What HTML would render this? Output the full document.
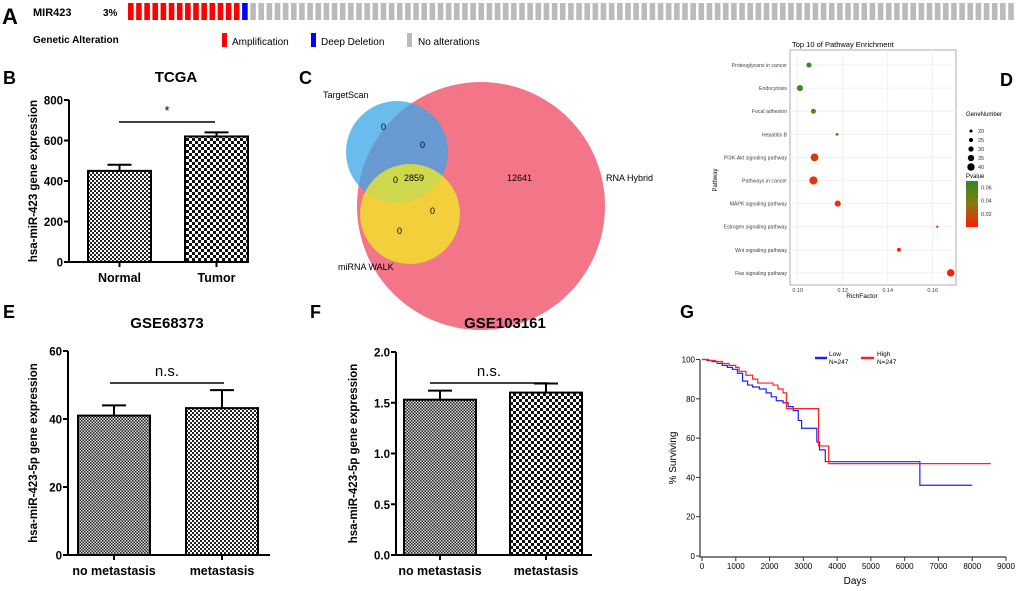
<!DOCTYPE html>
<html><head><meta charset="utf-8"><style>
body{margin:0;background:#fff}
svg{display:block;font-family:"Liberation Sans",Arial,sans-serif}
</style></head><body>
<svg id="fig" width="1020" height="591" viewBox="0 0 1020 591" xmlns="http://www.w3.org/2000/svg">
<defs>
<pattern id="chk1" width="4" height="4" patternUnits="userSpaceOnUse"><rect width="4" height="4" fill="#fff"/><rect width="2" height="2" fill="#222"/><rect x="2" y="2" width="2" height="2" fill="#222"/></pattern>
<pattern id="chk2" width="6" height="6" patternUnits="userSpaceOnUse"><rect width="6" height="6" fill="#fff"/><rect width="3" height="3" fill="#111"/><rect x="3" y="3" width="3" height="3" fill="#111"/></pattern>
<pattern id="chk3" width="3" height="3" patternUnits="userSpaceOnUse"><rect width="3" height="3" fill="#ddd"/><rect width="1.5" height="1.5" fill="#222"/><rect x="1.5" y="1.5" width="1.5" height="1.5" fill="#222"/></pattern>
<linearGradient id="pgrad" x1="0" y1="0" x2="0" y2="1"><stop offset="0" stop-color="#2e8b22"/><stop offset="0.5" stop-color="#8a7a10"/><stop offset="1" stop-color="#ff1a0a"/></linearGradient>
</defs>
<g id="pA">
<text x="2" y="24" font-size="22" font-weight="bold">A</text>
<text x="33" y="16" font-size="11" font-weight="bold">MIR423</text>
<text x="103" y="16" font-size="10" font-weight="bold">3%</text>
<text x="33" y="43" font-size="10" font-weight="bold">Genetic Alteration</text>
<rect x="222" y="33" width="5" height="14" fill="#f00"/>
<text x="232" y="45" font-size="10">Amplification</text>
<rect x="311" y="33" width="5" height="14" fill="#00f"/>
<text x="321" y="45" font-size="10">Deep Deletion</text>
<rect x="407" y="33" width="5" height="14" fill="#bbb"/>
<text x="418" y="45" font-size="10">No alterations</text>
</g>
<g id="pB"></g>
<g id="pC">
<text x="299" y="84" font-size="18" font-weight="bold">C</text>
<circle cx="481" cy="206" r="124" fill="#ee3b55" fill-opacity="0.7"/>
<circle cx="397" cy="152" r="51" fill="#3aa6e8" fill-opacity="0.75"/>
<circle cx="410" cy="214" r="50" fill="#f2ee22" fill-opacity="0.75"/>
<g font-size="9">
<text x="323" y="98">TargetScan</text>
<text x="606" y="181">RNA Hybrid</text>
<text x="338" y="270">miRNA WALK</text>
<text x="381" y="130">0</text>
<text x="420" y="148">0</text>
<text x="404" y="181">2859</text>
<text x="393" y="183">0</text>
<text x="507" y="181">12641</text>
<text x="430" y="214">0</text>
<text x="397" y="234">0</text>
</g>
</g>
<g id="pD">
<text x="1000" y="86" font-size="18" font-weight="bold">D</text>
<text x="792" y="47" font-size="7.5">Top 10 of Pathway Enrichment</text>
<rect x="790" y="50" width="166" height="235" fill="#fff" stroke="#999" stroke-width="0.8"/>
<text transform="translate(717,180) rotate(-90)" font-size="6" text-anchor="middle">Pathway</text>
<text x="862" y="298" font-size="6.5" text-anchor="middle">RichFactor</text>
<text x="966" y="116" font-size="6">GeneNumber</text>
<text x="966" y="178" font-size="6">Pvalue</text>
<rect x="966" y="181" width="12" height="46" fill="url(#pgrad)"/>
</g>
<g id="pE"></g>
<g id="pF"></g>
<g id="pG">
<text x="680" y="318" font-size="18" font-weight="bold">G</text>
</g>
</svg>
<script>
// ---- Panel A data
const aRed = 14, aBlue = 1, aTotal = 109;
// ---- Panel B data
const bCats = ["Normal","Tumor"];
const bVals = [450, 620];
const bErr = [480, 640];
const bTicks = [0,200,400,600,800];
// ---- Panel D data
const dPathways = ["Proteoglycans in cancer","Endocytosis","Focal adhesion","Hepatitis B","PI3K-Akt signaling pathway","Pathways in cancer","MAPK signaling pathway","Estrogen signaling pathway","Wnt signaling pathway","Ras signaling pathway"];
const dRich = [0.105,0.101,0.107,0.1175,0.1075,0.107,0.1178,0.162,0.145,0.168];
const dGenes = [27,31,27,18,38,40,31,15,22,37];
const dPval = [0.068,0.064,0.05,0.045,0.012,0.012,0.01,0.001,0.003,0.002];
const dXTicks = [0.10,0.12,0.14,0.16];
const dSizeTicks = [20,25,30,35,40];
const dPTicks = [0.02,0.04,0.06];
// ---- Panel E data
const eCats = ["no metastasis","metastasis"];
const eVals = [41, 43.2];
const eErr = [44, 48.5];
const eTicks = [0,20,40,60];
// ---- Panel F data
const fCats = ["no metastasis","metastasis"];
const fVals = [1.53, 1.6];
const fErr = [1.62, 1.69];
const fTicks = [0.0,0.5,1.0,1.5,2.0];
// ---- Panel G data
const gLowT = [0,150,300,450,600,750,900,1050,1200,1350,1500,1700,1900,2050,2200,2400,2550,2700,2850,2950,3400,3480,3650,6450,8000];
const gLowS = [100,99.5,99,98,97,96,95,93,89,87,86,85,83,81,79,78,76,74,69,65,58,54,48,36,36];
const gHighT = [0,200,400,600,800,1000,1100,1300,1500,1650,1900,2100,2250,2400,2500,3450,3750,8550];
const gHighS = [100,99.5,99,98,97,96,94,92,90,88,88,87,85,83,75,56,47,47];
const gXTicks = [0,1000,2000,3000,4000,5000,6000,7000,8000,9000];
const gYTicks = [0,20,40,60,80,100];

const NS="http://www.w3.org/2000/svg";
function mk(parent,tag,attrs,txt){const e=document.createElementNS(NS,tag);for(const k in attrs)e.setAttribute(k,attrs[k]);if(txt!==undefined)e.textContent=txt;parent.appendChild(e);return e;}

// Panel A
(function(){const g=document.getElementById('pA');
for(let i=0;i<aTotal;i++){const col=i<aRed?'#f00':(i<aRed+aBlue?'#00f':'#bbb');
const r=mk(g,'rect',{x:128+i*8.15,y:3,width:5.6,height:17,fill:col});

}})();

// bar chart helper
function barChart(id,o){const g=document.getElementById(id);
const y=v=>o.y0-(v/o.max)*(o.y0-o.y1);
const t=mk(g,'text',{x:o.lx,y:o.ly,'font-size':18,'font-weight':'bold'},o.letter);


const ti=mk(g,'text',{x:o.tx,y:o.ty,'font-size':15,'font-weight':'bold','text-anchor':'middle'},o.title);


const yl=mk(g,'text',{transform:`translate(${o.ylx},${(o.y0+o.y1)/2}) rotate(-90)`,'font-size':11.5,'font-weight':'bold','text-anchor':'middle'},o.ylabel);


const ax=mk(g,'path',{d:`M${o.ax} ${o.y1}V${o.y0}H${o.axEnd}`,stroke:'#000','stroke-width':2,fill:'none'});


o.ticks.forEach(v=>{mk(g,'line',{x1:o.ax-5,x2:o.ax,y1:y(v),y2:y(v),stroke:'#000','stroke-width':2});
const tl=mk(g,'text',{x:o.ax-6,y:y(v)+4.5,'font-size':11.5,'font-weight':'bold','text-anchor':'end'},o.fmt(v));

});
o.cats.forEach((c,i)=>{const x=o.bx[i],w=o.bw,cx=x+w/2;
mk(g,'line',{x1:cx,x2:cx,y1:y(o.vals[i]),y2:y(o.err[i]),stroke:'#000','stroke-width':2});
mk(g,'line',{x1:cx-12,x2:cx+12,y1:y(o.err[i]),y2:y(o.err[i]),stroke:'#000','stroke-width':2});
const b=mk(g,'rect',{x:x,y:y(o.vals[i]),width:w,height:o.y0-y(o.vals[i]),fill:o.fills[i],stroke:'#000','stroke-width':2});


mk(g,'line',{x1:cx,x2:cx,y1:o.y0,y2:o.y0+5,stroke:'#000','stroke-width':2});
const xl=mk(g,'text',{x:cx,y:o.y0+20,'font-size':12.5,'font-weight':'bold','text-anchor':'middle'},c);

});
const s=mk(g,'line',{x1:o.sig[0],x2:o.sig[1],y1:o.sig[2],y2:o.sig[2],stroke:'#000','stroke-width':1.5});


const st=mk(g,'text',{x:(o.sig[0]+o.sig[1])/2,y:o.sig[2]-7,'font-size':o.sigSize,'text-anchor':'middle'},o.sigText);

}

barChart('pB',{letter:'B',lx:3,ly:84,title:'TCGA',tx:176,ty:82,ylabel:'hsa-miR-423 gene expression',ylx:37,
y0:262,y1:100,max:800,ax:69,axEnd:240,ticks:bTicks,fmt:v=>v,cats:bCats,vals:bVals,err:bErr,bx:[88,185],bw:63,fills:['url(#chk1)','url(#chk2)'],sig:[119,215,122],sigText:'*',sigSize:13});
barChart('pE',{letter:'E',lx:3,ly:318,title:'GSE68373',tx:167,ty:328,ylabel:'hsa-miR-423-5p gene expression',ylx:37,
y0:555,y1:351,max:60,ax:68,axEnd:270,ticks:eTicks,fmt:v=>v,cats:eCats,vals:eVals,err:eErr,bx:[78,186],bw:72,fills:['url(#chk3)','url(#chk1)'],sig:[110,224,383],sigText:'n.s.',sigSize:15});
barChart('pF',{letter:'F',lx:310,ly:318,title:'GSE103161',tx:505,ty:328,ylabel:'hsa-miR-423-5p gene expression',ylx:357,
y0:555,y1:352,max:2,ax:396,axEnd:592,ticks:fTicks,fmt:v=>v.toFixed(1),cats:fCats,vals:fVals,err:fErr,bx:[404,510],bw:72,fills:['url(#chk3)','url(#chk2)'],sig:[430,548,383],sigText:'n.s.',sigSize:15});

// Panel D
(function(){const g=document.getElementById('pD');
const xs=v=>797.7+(v-0.10)*2250, ys=i=>65+i*23.1;
const rs=n=>1+ (n-14)*0.12;
const pc=p=>{const t=Math.min(1,p/0.07);const a=[255,26,10],m=[138,122,16],b=[46,139,34];
let c;if(t<0.5){const u=t/0.5;c=a.map((x,k)=>x+(m[k]-x)*u);}else{const u=(t-0.5)/0.5;c=m.map((x,k)=>x+(b[k]-x)*u);}
return `rgb(${c.map(Math.round).join(',')})`;};
dXTicks.forEach(v=>{mk(g,'line',{x1:xs(v),x2:xs(v),y1:50,y2:285,stroke:'#eee','stroke-width':0.8});
const t=mk(g,'text',{x:xs(v),y:292,'font-size':5.5,fill:'#444','text-anchor':'middle'},v.toFixed(2));

});
dPathways.forEach((p,i)=>{mk(g,'line',{x1:790,x2:956,y1:ys(i),y2:ys(i),stroke:'#eee','stroke-width':0.8});
const t=mk(g,'text',{x:787,y:ys(i)+2,'font-size':5.2,fill:'#444','text-anchor':'end'},p);


const c=mk(g,'circle',{cx:xs(dRich[i]),cy:ys(i),r:rs(dGenes[i]),fill:pc(dPval[i])});

});
dSizeTicks.forEach((n,i)=>{mk(g,'circle',{cx:971,cy:131+i*9,r:rs(n)*0.9,fill:'#000'});
const t=mk(g,'text',{x:978,y:133+i*9,'font-size':5.5,fill:'#333'},n);

});
dPTicks.forEach(p=>{const yy=227-(p/0.07)*46;
const t=mk(g,'text',{x:981,y:yy+2,'font-size':5.5,fill:'#333'},p.toFixed(2));

});})();

// Panel G
(function(){const g=document.getElementById('pG');
const xs=t=>702+t*(304/9000), ys=s=>556-s*1.965;
const ax=mk(g,'path',{d:`M700 ${ys(100)}V557H1006`,stroke:'#333','stroke-width':1.2,fill:'none'});


gYTicks.forEach(v=>{mk(g,'line',{x1:696,x2:700,y1:ys(v),y2:ys(v),stroke:'#333'});
const t=mk(g,'text',{x:695,y:ys(v)+3,'font-size':8,'text-anchor':'end'},v);

});
gXTicks.forEach(v=>{mk(g,'line',{x1:xs(v),x2:xs(v),y1:557,y2:561,stroke:'#333'});
const t=mk(g,'text',{x:xs(v),y:569,'font-size':8,'text-anchor':'middle'},v);

});
const yt=mk(g,'text',{transform:'translate(676,458) rotate(-90)','font-size':10,'text-anchor':'middle'},'% Surviving');


const xt=mk(g,'text',{x:855,y:584,'font-size':10,'text-anchor':'middle'},'Days');


function step(T,S){let d=`M${xs(T[0])} ${ys(S[0])}`;for(let i=1;i<T.length;i++){d+=`H${xs(T[i])}V${ys(S[i])}`;}return d;}
const lo=mk(g,'path',{d:step(gLowT,gLowS),stroke:'#2020ff','stroke-width':1.2,fill:'none'});


const hi=mk(g,'path',{d:step(gHighT,gHighS),stroke:'#ff2020','stroke-width':1.2,fill:'none'});


mk(g,'line',{x1:815,x2:827,y1:358,y2:358,stroke:'#2020ff','stroke-width':2.5});
const l1=mk(g,'text',{x:829,y:356,'font-size':6.5},'Low');


mk(g,'text',{x:829,y:364,'font-size':6.5},'N=247');
mk(g,'line',{x1:861,x2:874,y1:358,y2:358,stroke:'#ff2020','stroke-width':2.5});
const l2=mk(g,'text',{x:877,y:356,'font-size':6.5},'High');


mk(g,'text',{x:877,y:364,'font-size':6.5},'N=247');})();
</script>
</body></html>
